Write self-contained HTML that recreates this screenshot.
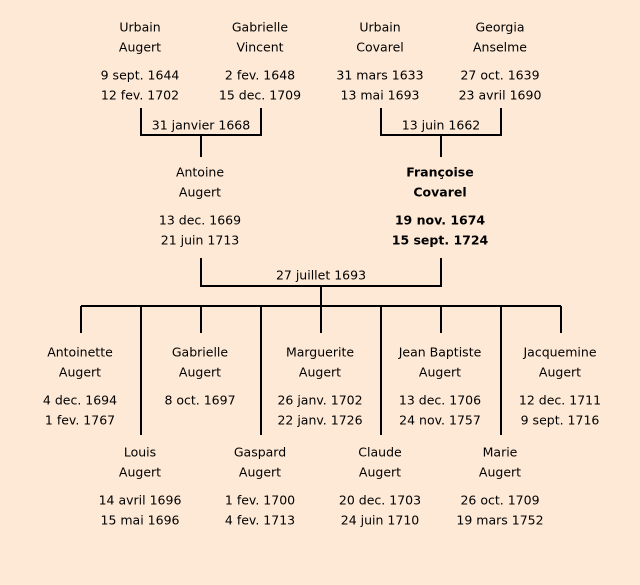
<html><head><style>body{margin:0;background:#fde9d6}svg{display:block}text{font-family:"Comic Sans MS","DejaVu Sans",sans-serif;font-size:12.5px;text-anchor:middle;dominant-baseline:middle;fill:#000}.b{font-weight:bold}</style></head><body>
<svg width="640" height="585" viewBox="0 0 640 585" xmlns="http://www.w3.org/2000/svg">
<rect width="640" height="585" fill="#fde9d6"/>
<g stroke="#000" stroke-width="2" fill="none">
<path d="M141 108V135H261V108M201 135V157"/>
<path d="M381 108V135H501V108M441 135V157"/>
<path d="M201 258V286H441V258M321 286V306"/>
<path d="M81 306H561"/>
<path d="M81 306V333M201 306V333M321 306V333M441 306V333M561 306V333"/>
<path d="M141 306V435M261 306V435M381 306V435M501 306V435"/>
</g>
<g transform="translate(0,1)">
<text x="140" y="27">Urbain</text><text x="140" y="47">Augert</text><text x="140" y="75">9 sept. 1644</text><text x="140" y="95">12 fev. 1702</text>
<text x="260" y="27">Gabrielle</text><text x="260" y="47">Vincent</text><text x="260" y="75">2 fev. 1648</text><text x="260" y="95">15 dec. 1709</text>
<text x="380" y="27">Urbain</text><text x="380" y="47">Covarel</text><text x="380" y="75">31 mars 1633</text><text x="380" y="95">13 mai 1693</text>
<text x="500" y="27">Georgia</text><text x="500" y="47">Anselme</text><text x="500" y="75">27 oct. 1639</text><text x="500" y="95">23 avril 1690</text>
<text x="201" y="125">31 janvier 1668</text><text x="441" y="125">13 juin 1662</text>
<text x="200" y="172">Antoine</text><text x="200" y="192">Augert</text><text x="200" y="220">13 dec. 1669</text><text x="200" y="240">21 juin 1713</text>
<text class="b" x="440" y="172">Françoise</text><text class="b" x="440" y="192">Covarel</text><text class="b" x="440" y="220">19 nov. 1674</text><text class="b" x="440" y="240">15 sept. 1724</text>
<text x="321" y="275">27 juillet 1693</text>
<text x="80" y="352">Antoinette</text><text x="80" y="372">Augert</text><text x="80" y="400">4 dec. 1694</text><text x="80" y="420">1 fev. 1767</text>
<text x="200" y="352">Gabrielle</text><text x="200" y="372">Augert</text><text x="200" y="400">8 oct. 1697</text>
<text x="320" y="352">Marguerite</text><text x="320" y="372">Augert</text><text x="320" y="400">26 janv. 1702</text><text x="320" y="420">22 janv. 1726</text>
<text x="440" y="352">Jean Baptiste</text><text x="440" y="372">Augert</text><text x="440" y="400">13 dec. 1706</text><text x="440" y="420">24 nov. 1757</text>
<text x="560" y="352">Jacquemine</text><text x="560" y="372">Augert</text><text x="560" y="400">12 dec. 1711</text><text x="560" y="420">9 sept. 1716</text>
<text x="140" y="452">Louis</text><text x="140" y="472">Augert</text><text x="140" y="500">14 avril 1696</text><text x="140" y="520">15 mai 1696</text>
<text x="260" y="452">Gaspard</text><text x="260" y="472">Augert</text><text x="260" y="500">1 fev. 1700</text><text x="260" y="520">4 fev. 1713</text>
<text x="380" y="452">Claude</text><text x="380" y="472">Augert</text><text x="380" y="500">20 dec. 1703</text><text x="380" y="520">24 juin 1710</text>
<text x="500" y="452">Marie</text><text x="500" y="472">Augert</text><text x="500" y="500">26 oct. 1709</text><text x="500" y="520">19 mars 1752</text>
</g>
</svg></body></html>
